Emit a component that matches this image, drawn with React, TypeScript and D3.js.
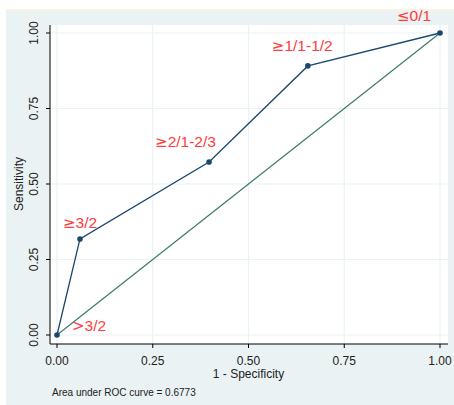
import React from "react";
import * as d3 from "d3";

const fpr = [0, 0.06, 0.397, 0.655, 1];
const tpr = [0, 0.318, 0.573, 0.891, 1];
const cutSymbols = [">", "≥", "≥", "≥", "≤"];
const cutValues = ["3/2", "3/2", "2/1-2/3", "1/1-1/2", "0/1"];
const tickVals = [0, 0.25, 0.5, 0.75, 1];
const tickLabels = ["0.00", "0.25", "0.50", "0.75", "1.00"];
const aucText = "Area under ROC curve = 0.6773";

const labelOffsets: [number, number][] = [
  [15, -4],
  [-17, -11],
  [-54, -15],
  [-36, -15],
  [-43, -12],
];

export default function App() {
  const W = 454, H = 405;
  const x = d3.scaleLinear().domain([0, 1]).range([57, 440]);
  const y = d3.scaleLinear().domain([0, 1]).range([335, 33]);
  const line = d3.line<number>().x((_, i) => x(fpr[i])).y((d) => y(d));
  const pts = tpr;
  const font = "'Liberation Sans Narrow', 'Liberation Sans', Arial, sans-serif";
  const plotL = 50, plotR = 448, plotT = 25, plotB = 344;
  return (
    <svg width={W} height={H} style={{ position: "absolute", left: 0, top: 0 }} fontFamily={font}>
      <rect x={0} y={0} width={W} height={H} fill="#ffffff" />
      <rect x={6} y={9} width={W - 6} height={2} fill="#fbf3e1" />
      <rect x={6} y={11} width={W - 6} height={H - 11} fill="#eaf2f3" />
      <rect x={plotL} y={plotT} width={plotR - plotL} height={plotB - plotT} fill="#ffffff" />
      {tickVals.map((t) => (
        <line key={"gy" + t} x1={plotL} x2={plotR} y1={y(t)} y2={y(t)} stroke="#eaf2f3" strokeWidth={1.2} />
      ))}
      {tickVals.map((t) => (
        <line key={"gx" + t} x1={x(t)} x2={x(t)} y1={plotT} y2={plotB} stroke="#eaf2f3" strokeWidth={1.2} />
      ))}
      <line x1={x(0)} y1={y(0)} x2={x(1)} y2={y(1)} stroke="#3d7a6c" strokeWidth={1.2} />
      <path d={line(pts) || ""} fill="none" stroke="#1a476f" strokeWidth={1.3} />
      {pts.map((v, i) => (
        <circle key={"p" + i} cx={x(fpr[i])} cy={y(v)} r={2.8} fill="#1a476f" />
      ))}
      {cutValues.map((l, i) => (
        <text key={"l" + i} x={x(fpr[i]) + labelOffsets[i][0]} y={y(tpr[i]) + labelOffsets[i][1]} fill="#ff3b3b" fontSize={15.5} fontFamily="'Liberation Sans', Arial, sans-serif">
          <tspan fontFamily="'DejaVu Sans', sans-serif" fontSize={15}>{cutSymbols[i]}</tspan>
          <tspan>{l}</tspan>
        </text>
      ))}
      <line x1={plotL} x2={plotL} y1={plotT} y2={plotB} stroke="#000" strokeWidth={1} />
      <line x1={plotL} x2={plotR} y1={plotB} y2={plotB} stroke="#000" strokeWidth={1} />
      {tickVals.map((t, i) => (
        <g key={"ty" + t}>
          <line x1={plotL - 4} x2={plotL} y1={y(t)} y2={y(t)} stroke="#000" />
          <text transform={`translate(38,${y(t)}) rotate(-90)`} textAnchor="middle" fontSize={12} fill="#222">
            {tickLabels[i]}
          </text>
        </g>
      ))}
      {tickVals.map((t, i) => (
        <g key={"tx" + t}>
          <line x1={x(t)} x2={x(t)} y1={plotB} y2={plotB + 4} stroke="#000" />
          <text x={x(t)} y={365} textAnchor="middle" fontSize={12} fill="#222">
            {tickLabels[i]}
          </text>
        </g>
      ))}
      <text transform={`translate(23,${y(0.5)}) rotate(-90)`} textAnchor="middle" fontSize={12} fill="#222">
        Sensitivity
      </text>
      <text x={x(0.5)} y={378} textAnchor="middle" fontSize={12} fill="#222">
        1 - Specificity
      </text>
      <text x={52} y={396} fontSize={10} fill="#222">
        {aucText}
      </text>
    </svg>
  );
}
